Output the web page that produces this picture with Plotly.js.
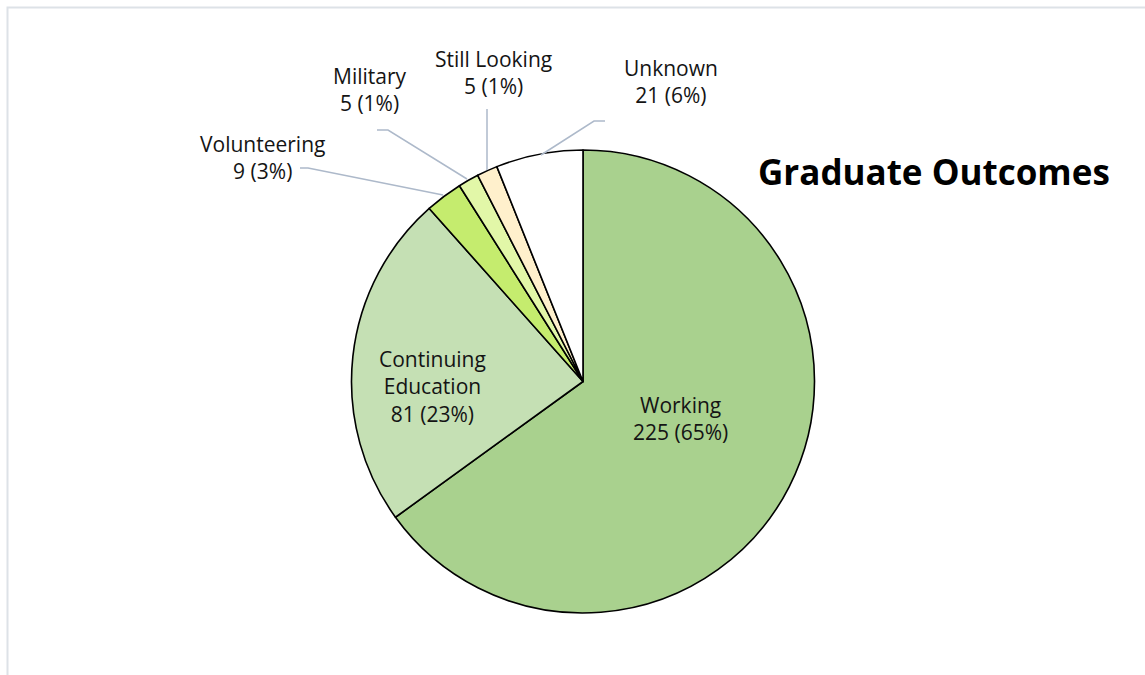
<!DOCTYPE html>
<html>
<head>
<meta charset="utf-8">
<script src="https://cdn.plot.ly/plotly-3.0.1.min.js"></script>
<style>
  html, body { margin: 0; padding: 0; background: #ffffff; }
  #chart { width: 1145px; height: 675px; }
</style>
</head>
<body>
<div id="chart"></div>
<script>
// ---- data ----
const labels = ['Working', 'Continuing Education', 'Volunteering', 'Military', 'Still Looking', 'Unknown'];
const values = [225, 81, 9, 5, 5, 21];
const colors = ['#a9d18e', '#c5e0b4', '#c5ec6e', '#e2f7a8', '#fff0cc', '#ffffff'];
const chartTitle = 'Graduate Outcomes';

// ---- layout helpers ----
const W = 1145, H = 675;
const fx = x => x / W;
const fy = y => 1 - y / H;
const cx = 583, cy = 381.5, R = 231.5;
const FONT = '"Open Sans", Lato, sans-serif';

const total = values.reduce((a, b) => a + b, 0);
const pct = v => Math.round(v / total * 100);
const labelText = (i) => {
  const name = labels[i] === 'Continuing Education' ? 'Continuing<br>Education' : labels[i];
  return name + '<br>' + values[i] + ' (' + pct(values[i]) + '%)';
};

// label centres (pixels), one per slice
const labelPos = [[680, 418], [432, 386], [262, 157], [370, 90], [493, 72], [671, 81]];
// leader lines (pixels) for the outside labels
const leaders = [
  null, null,
  [[300, 168], [308, 168], [443, 195]],
  [[377, 130], [388, 130], [467, 179]],
  [[487, 109], [487, 170]],
  [[605, 121], [594, 121], [541, 155]]
];

const annotations = labels.map((l, i) => ({
  xref: 'paper', yref: 'paper',
  x: fx(labelPos[i][0]), y: fy(labelPos[i][1]),
  xanchor: 'center', yanchor: 'middle', align: 'center',
  text: labelText(i), showarrow: false,
  font: { family: FONT, size: 21, color: '#141414' }
}));
annotations.push({
  xref: 'paper', yref: 'paper',
  x: fx(934), y: fy(171), xanchor: 'center', yanchor: 'middle',
  text: '<b>' + chartTitle + '</b>', showarrow: false,
  font: { family: FONT, size: 35, color: '#000000' }
});

const shapes = [];
leaders.forEach(pts => {
  if (!pts) return;
  const d = pts.map((p, k) => (k ? 'L' : 'M') + fx(p[0]) + ',' + fy(p[1])).join(' ');
  shapes.push({ type: 'path', xref: 'paper', yref: 'paper', path: d,
    line: { color: '#adb9ca', width: 1.5 } });
});
// outer light frame
shapes.push({ type: 'rect', xref: 'paper', yref: 'paper',
  x0: fx(7.5), x1: fx(1160), y0: fy(690), y1: fy(7.5),
  line: { color: '#dde2e7', width: 2 }, fillcolor: 'rgba(0,0,0,0)' });

const trace = {
  type: 'pie',
  labels: labels,
  values: values,
  sort: false,
  direction: 'clockwise',
  rotation: 0,
  marker: { colors: colors, line: { color: '#000000', width: 1.6 } },
  textinfo: 'none',
  hoverinfo: 'label+value+percent',
  domain: { x: [fx(cx - R), fx(cx + R)], y: [fy(cy + R), fy(cy - R)] },
  showlegend: false
};

const layout = {
  width: W, height: H,
  margin: { l: 0, r: 0, t: 0, b: 0 },
  paper_bgcolor: '#ffffff',
  showlegend: false,
  annotations: annotations,
  shapes: shapes
};

Plotly.newPlot('chart', [trace], layout, { displayModeBar: false, staticPlot: true });
</script>
</body>
</html>
